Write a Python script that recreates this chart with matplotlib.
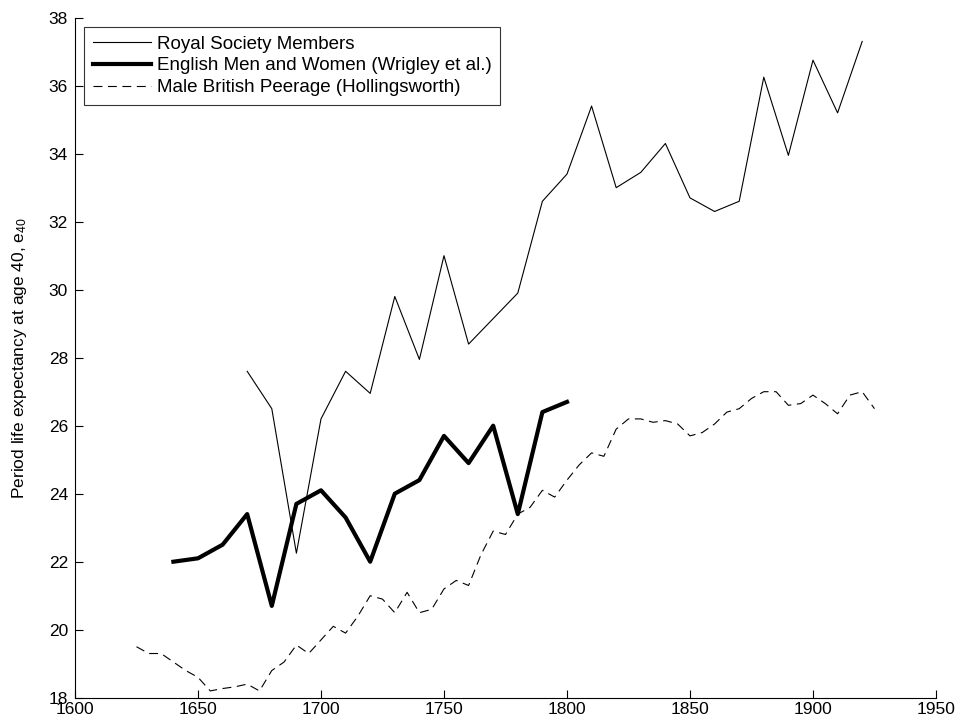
import matplotlib
matplotlib.use('Agg')
import matplotlib.pyplot as plt
import numpy as np

plt.rcParams['font.family'] = ['Liberation Sans', 'DejaVu Sans']
plt.rcParams['mathtext.fontset'] = 'custom'
plt.rcParams['mathtext.rm'] = 'Liberation Sans'
plt.rcParams['mathtext.it'] = 'Liberation Sans'

# Royal Society members, by decade
rs_years = list(range(1670, 1921, 10))
rs_e40 = [27.6, 26.5, 22.25, 26.2, 27.6, 26.95, 29.8, 27.95, 31.0, 28.4,
          29.15, 29.9, 32.6, 33.4, 35.4, 33.0, 33.45, 34.3, 32.7, 32.3,
          32.6, 36.25, 33.95, 36.75, 35.2, 37.3]

# English men and women (Wrigley et al.)
en_years = list(range(1640, 1801, 10))
en_e40 = [22.0, 22.1, 22.5, 23.4, 20.7, 23.7, 24.1, 23.3, 22.0, 24.0,
          24.4, 25.7, 24.9, 26.0, 23.4, 26.4, 26.7]

# Male British peerage (Hollingsworth), 5-year steps
bp_years = list(range(1625, 1926, 5))
bp_e40 = [19.5, 19.3, 19.3, 19.05, 18.8, 18.6, 18.2, 18.27, 18.32, 18.4,
          18.2, 18.8, 19.05, 19.55, 19.3, 19.7, 20.1, 19.9, 20.4, 21.0,
          20.9, 20.5, 21.1, 20.5, 20.6, 21.2, 21.45, 21.3, 22.2, 22.9,
          22.8, 23.4, 23.6, 24.1, 23.9, 24.4, 24.85, 25.2, 25.1, 25.9,
          26.2, 26.2, 26.1, 26.15, 26.05, 25.7, 25.8, 26.05, 26.4, 26.5,
          26.8, 27.0, 27.0, 26.6, 26.65, 26.9, 26.65, 26.35, 26.9, 27.0,
          26.5]

fig = plt.figure(figsize=(9.59, 7.24), dpi=100)
ax = fig.add_axes([0.0782, 0.0363, 0.8978, 0.9393])

ax.plot(rs_years, rs_e40, color='black', linewidth=0.8, label='Royal Society Members')
ax.plot(en_years, en_e40, color='black', linewidth=3.0, label='English Men and Women (Wrigley et al.)')
ax.plot(bp_years, bp_e40, color='black', linewidth=0.8, dashes=(8, 5),
        label='Male British Peerage (Hollingsworth)')

ax.set_xlim(1600, 1950)
ax.set_ylim(18, 38)
ax.set_xticks(np.arange(1600, 1951, 50))
ax.set_yticks(np.arange(18, 39, 2))
ax.tick_params(direction='in', labelsize=12.5, length=6, width=0.8)
ax.tick_params(axis='y', pad=5)
ax.tick_params(axis='x', pad=3)
ax.spines['top'].set_visible(False)
ax.spines['right'].set_visible(False)
ax.set_ylabel('Period life expectancy at age 40, e$_{40}$', fontsize=12.5)
ax.yaxis.set_label_coords(-0.054, 0.5)

leg = ax.legend(loc='upper left', fontsize=13.5, frameon=True, fancybox=False,
                edgecolor='black', borderpad=0.45, labelspacing=0.25,
                handlelength=3.1, handletextpad=0.3, borderaxespad=0.5)
leg.get_frame().set_linewidth(0.8)

fig.savefig('out.png', dpi=100)
